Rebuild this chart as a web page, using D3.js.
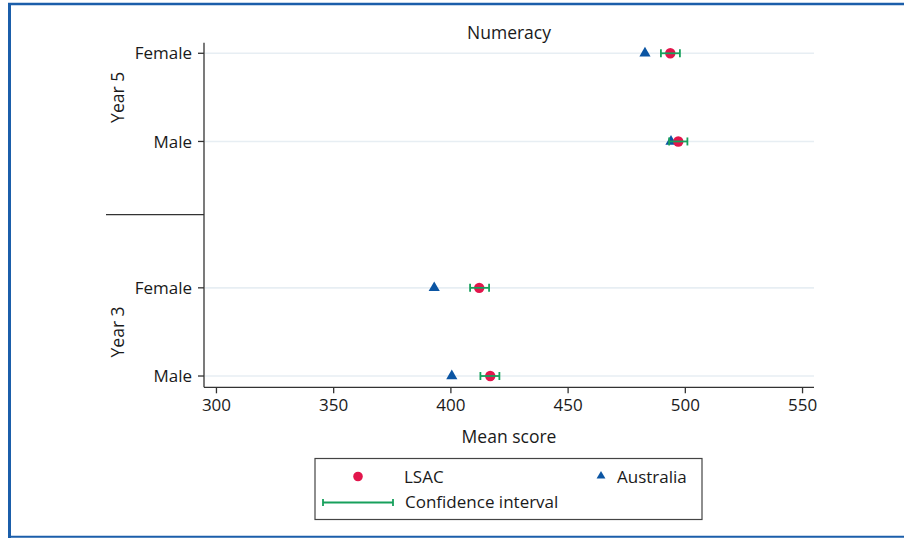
<!DOCTYPE html>
<html>
<head>
<meta charset="utf-8">
<script src="https://cdn.jsdelivr.net/npm/d3@7"></script>
<style>
html,body{margin:0;padding:0;background:#fff;}
svg{display:block;}
text{font-family:'Open Sans',sans-serif;fill:#1a1a1a;}
</style>
</head>
<body>
<svg id="chart" width="904" height="538"></svg>
<script>
// ---- data ----
const title = "Numeracy";
const xLabel = "Mean score";
const groups = ["Year 5", "Year 3"];
const rowLabels = ["Female", "Male", "Female", "Male"];
const rowGroups = ["Year 5", "Year 5", "Year 3", "Year 3"];
const lsac = [493.8, 497.2, 412.3, 417.0];
const ciLow = [489.8, 493.3, 408.4, 412.8];
const ciHigh = [497.9, 501.1, 416.5, 420.9];
const australia = [483.0, 494.1, 393.1, 400.6];
const xTicks = [300, 350, 400, 450, 500, 550];
const legendLabels = ["LSAC", "Australia", "Confidence interval"];

// ---- layout ----
const svg = d3.select("#chart");
const pL = 204, pR = 814, pT = 42.7, pB = 387.3;
const C = {red: "#e2164c", blue: "#0b55a3", green: "#17a05c", frame: "#1b5eaa", axis: "#333", grid: "#e7eef3"};
const FS = 17;

// frame
svg.append("line").attr("x1", 8).attr("x2", 904).attr("y1", 4).attr("y2", 4).attr("stroke", C.frame).attr("stroke-width", 2.5);
svg.append("line").attr("x1", 9.5).attr("x2", 9.5).attr("y1", 3).attr("y2", 538).attr("stroke", C.frame).attr("stroke-width", 3);
svg.append("line").attr("x1", 8).attr("x2", 904).attr("y1", 536.8).attr("y2", 536.8).attr("stroke", C.frame).attr("stroke-width", 2);

const x = d3.scaleLinear().domain([294.9, 555.1]).range([pL, pR]);

// row positions: index within group plus a gap between groups
const gapExtra = 0.66;
const rowPos = rowLabels.map((d, i) => i + groups.indexOf(rowGroups[i]) * gapExtra);
const y = d3.scaleLinear().domain([-0.12, 3 + gapExtra + 0.128]).range([pT, pB]);

// gridlines
svg.append("g").selectAll("line").data(rowPos).join("line")
  .attr("x1", pL + 1).attr("x2", pR).attr("y1", d => y(d)).attr("y2", d => y(d))
  .attr("stroke", C.grid).attr("stroke-width", 1.6);

// x axis
const xAxis = d3.axisBottom(x).tickValues(xTicks).tickSize(6).tickSizeOuter(0).tickPadding(6);
const gx = svg.append("g").attr("transform", `translate(0,${pB})`).call(xAxis);
gx.attr("font-family", null).attr("font-size", null);
gx.select(".domain").attr("stroke", C.axis).attr("stroke-width", 1.3).attr("d", `M${pL},0H${pR}`);
gx.selectAll(".tick line").attr("stroke", C.axis).attr("stroke-width", 1.3);
gx.selectAll(".tick text").attr("font-size", FS).attr("fill", "#1a1a1a");

// y axis
svg.append("line").attr("x1", pL).attr("x2", pL).attr("y1", pT).attr("y2", pB).attr("stroke", C.axis).attr("stroke-width", 1.3);
const yt = svg.append("g").selectAll("g").data(rowLabels).join("g")
  .attr("transform", (d, i) => `translate(${pL},${y(rowPos[i])})`);
yt.append("line").attr("x1", -6).attr("x2", 0).attr("stroke", C.axis).attr("stroke-width", 1.3);
yt.append("text").attr("x", -12).attr("dy", "0.36em").attr("text-anchor", "end").attr("font-size", FS).text(d => d);

// group separator and labels
const sepY = (y(rowPos[1]) + y(rowPos[2])) / 2;
svg.append("line").attr("x1", 106).attr("x2", pL).attr("y1", sepY).attr("y2", sepY).attr("stroke", C.axis).attr("stroke-width", 1.3);
groups.forEach(g => {
  const idx = rowGroups.map((r, i) => r === g ? i : -1).filter(i => i >= 0);
  const cy = d3.mean(idx, i => y(rowPos[i]));
  svg.append("text").attr("transform", `translate(124,${cy}) rotate(-90)`)
    .attr("text-anchor", "middle").attr("font-size", FS + 0.5).text(g);
});

// title & x label
svg.append("text").attr("x", (pL + pR) / 2).attr("y", 39).attr("text-anchor", "middle").attr("font-size", FS + 0.5).text(title);
svg.append("text").attr("x", (pL + pR) / 2).attr("y", 443).attr("text-anchor", "middle").attr("font-size", FS + 0.5).text(xLabel);

// marks
const tri = d3.symbol().type(d3.symbolTriangle).size(54);
svg.append("g").selectAll("path").data(australia).join("path")
  .attr("d", tri).attr("fill", C.blue)
  .attr("transform", (d, i) => `translate(${x(d)},${y(rowPos[i])})`);
svg.append("g").selectAll("circle").data(lsac).join("circle")
  .attr("cx", d => x(d)).attr("cy", (d, i) => y(rowPos[i])).attr("r", 5.2).attr("fill", C.red);
const ci = svg.append("g").attr("stroke", C.green).attr("stroke-width", 1.8);
ciLow.forEach((lo, i) => {
  const yy = y(rowPos[i]), hi = ciHigh[i];
  ci.append("line").attr("x1", x(lo)).attr("x2", x(hi)).attr("y1", yy).attr("y2", yy);
  ci.append("line").attr("x1", x(lo)).attr("x2", x(lo)).attr("y1", yy - 4).attr("y2", yy + 4);
  ci.append("line").attr("x1", x(hi)).attr("x2", x(hi)).attr("y1", yy - 4).attr("y2", yy + 4);
});

// legend
const lg = svg.append("g");
lg.append("rect").attr("x", 315).attr("y", 458.5).attr("width", 387).attr("height", 61)
  .attr("fill", "none").attr("stroke", "#444").attr("stroke-width", 1.2);
lg.append("circle").attr("cx", 358).attr("cy", 476.5).attr("r", 4.8).attr("fill", C.red);
lg.append("text").attr("x", 404).attr("y", 483).attr("font-size", FS).text(legendLabels[0]);
lg.append("path").attr("d", d3.symbol().type(d3.symbolTriangle).size(34)).attr("fill", C.blue)
  .attr("transform", "translate(601,476)");
lg.append("text").attr("x", 617).attr("y", 483).attr("font-size", FS).text(legendLabels[1]);
const lci = lg.append("g").attr("stroke", C.green).attr("stroke-width", 1.8);
lci.append("line").attr("x1", 323).attr("x2", 393).attr("y1", 502.5).attr("y2", 502.5);
lci.append("line").attr("x1", 323).attr("x2", 323).attr("y1", 499).attr("y2", 506);
lci.append("line").attr("x1", 393).attr("x2", 393).attr("y1", 499).attr("y2", 506);
lg.append("text").attr("x", 405).attr("y", 508).attr("font-size", FS).text(legendLabels[2]);
</script>
</body>
</html>
